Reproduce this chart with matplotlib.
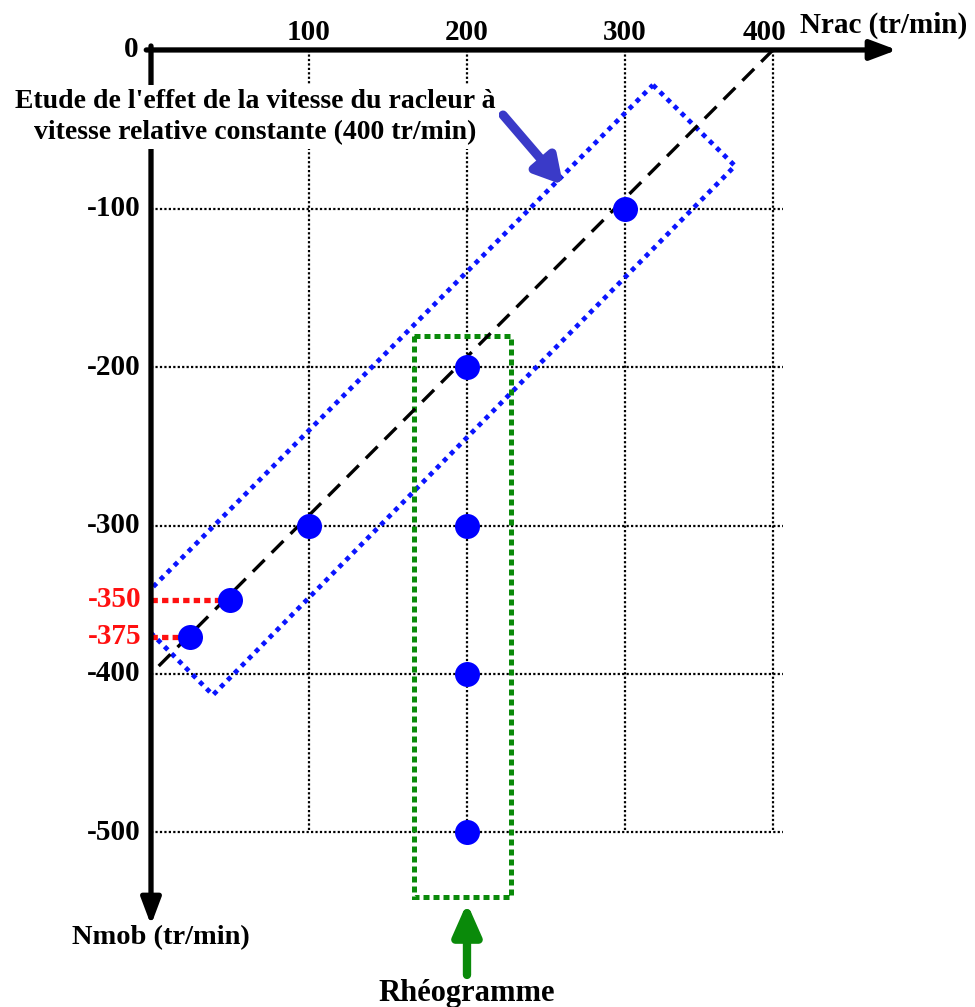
import numpy as np
import matplotlib
matplotlib.use("Agg")
import matplotlib.pyplot as plt
from matplotlib.patches import Polygon, Rectangle

# ---------------- data ----------------
nrac_pts = [300, 200, 100, 50, 25, 200, 200, 200]
nmob_pts = [-100, -200, -300, -350, -375, -300, -400, -500]
x_ticks = [100, 200, 300, 400]
y_ticks = [-100, -200, -300, -400, -500]
red_levels = [-350, -375]
red_nrac = [50, 25]
rel_speed = 400
blue_box_x = [318.9, 374.3, 39.2, -13.9]
blue_box_y = [-22.1, -73.1, -413.4, -357.6]
green_box_x = [166.5, 227.8]
green_box_y = [-180.3, -540.7]

# ---------------- scales (hand-drawn spacing) ----------------
KX = 148 / 158.0
KY = 148 / 158.6


def fx(x):
    x = np.asarray(x, dtype=float)
    return np.where(x <= 300, x, 300 + (x - 300) * KX)


def ix(u):
    u = np.asarray(u, dtype=float)
    return np.where(u <= 300, u, 300 + (u - 300) / KX)


def fy(y):
    y = np.asarray(y, dtype=float)
    return np.where(y >= -300, y,
                    np.where(y >= -400, -300 + (y + 300) * KY,
                             -300 - 100 * KY + (y + 400)))


def iy(u):
    u = np.asarray(u, dtype=float)
    b = -300 - 100 * KY
    return np.where(u >= -300, u,
                    np.where(u >= b, -300 + (u + 300) / KY,
                             -400 + (u - b)))


plt.rcParams['font.family'] = ['Liberation Serif', 'DejaVu Serif']
plt.rcParams['font.weight'] = 'bold'

fig = plt.figure(figsize=(9.75, 10.07), dpi=100)
ax = fig.add_axes([0, 0, 1, 1])
ax.set_xscale('function', functions=(fx, ix))
ax.set_yscale('function', functions=(fy, iy))
ax.set_xlim(-95.57, 536.5)
ax.set_ylim(-610.1, 31.5)
ax.axis('off')

# grid
ymin_g = min(y_ticks)
for xv in x_ticks:
    ax.plot([xv, xv], [0, ymin_g], color='black', lw=1.6,
            linestyle=(0, (1, 1)), zorder=1)
for yv in y_ticks:
    ax.plot([0, 406.8], [yv, yv], color='black', lw=1.6,
            linestyle=(0, (1, 1)), zorder=1)

# axes arrows
ax.annotate('', xy=(483.8, 0), xytext=(-3, 0),
            arrowprops=dict(arrowstyle='-|>,head_length=0.8,head_width=0.3',
                            mutation_scale=20, lw=3.8, color='black',
                            shrinkA=0, shrinkB=0),
            zorder=5)
ax.annotate('', xy=(0, -558.4), xytext=(0, 2.5),
            arrowprops=dict(arrowstyle='-|>,head_length=0.8,head_width=0.3',
                            mutation_scale=20, lw=3.8, color='black',
                            shrinkA=0, shrinkB=0),
            zorder=5)

# dashed constant relative speed line
ax.plot([rel_speed, 0], [0, -rel_speed], color='black', lw=2.4,
        linestyle=(0, (5, 3)), zorder=3)

# blue dotted box
clip = Rectangle((0, -700), 1000, 800, transform=ax.transData)
bx = Polygon(list(zip(blue_box_x, blue_box_y)), closed=True, fill=False,
             edgecolor='#0a14ff', lw=3.4, linestyle=(0, (1, 1.1)), zorder=2)
ax.add_patch(bx)
bx.set_clip_path(clip)

# green dotted box
gb = Polygon([(green_box_x[0], green_box_y[0]), (green_box_x[1], green_box_y[0]),
              (green_box_x[1], green_box_y[1]), (green_box_x[0], green_box_y[1])],
             closed=True, fill=False, edgecolor='#0a8a0a', lw=3.6,
             linestyle=(0, (1.2, 0.8)), zorder=2)
ax.add_patch(gb)

# red dotted lines
for xv, yv in zip(red_nrac, red_levels):
    ax.plot([0, xv], [yv, yv], color='#ff1010', lw=3.8,
            linestyle=(0, (1.2, 0.8)), zorder=4, solid_capstyle='butt')

# points
ax.plot(nrac_pts, nmob_pts, 'o', color='#0000ff', markersize=18, zorder=6,
        markeredgewidth=0)

# tick labels
fs = 21
ax.annotate('0', xy=(0, 0), xytext=(-20, 0), textcoords='offset pixels',
            ha='center', va='center', fontsize=fs, fontweight='bold')
for xv in x_ticks:
    off = -8 if xv == 400 else 0
    ax.annotate(str(xv), xy=(xv, 0), xytext=(off, 17), textcoords='offset pixels',
                ha='center', va='center', fontsize=fs, fontweight='bold')
for yv in y_ticks:
    ax.annotate(str(yv), xy=(0, yv), xytext=(-10, 0), textcoords='offset pixels',
                ha='right', va='center', fontsize=fs, fontweight='bold')
for yv in red_levels:
    ax.annotate(str(yv), xy=(0, yv), xytext=(-9, 0), textcoords='offset pixels',
                ha='right', va='center', fontsize=fs, fontweight='bold',
                color='#ff1010')

# axis titles
fig.text(884 / 975, 1 - 25 / 1007, 'Nrac (tr/min)', ha='center', va='center',
         fontsize=21, fontweight='bold')
fig.text(161 / 975, 1 - 938 / 1007, 'Nmob (tr/min)', ha='center', va='center',
         fontsize=20.5, fontweight='bold')
fig.text(467 / 975, 1 - 994 / 1007, 'Rhéogramme', ha='center', va='center',
         fontsize=22, fontweight='bold')
fig.text(255 / 975, 1 - 117 / 1007,
         "Etude de l'effet de la vitesse du racleur à\nvitesse relative constante (400 tr/min)",
         ha='center', va='center', fontsize=20, fontweight='bold', linespacing=1.3,
         bbox=dict(boxstyle='square,pad=0.15', facecolor='white', edgecolor='none'),
         zorder=10)

# annotation arrows
ax.annotate('', xy=(260.8, -85.1), xytext=(222.8, -41.0),
            arrowprops=dict(arrowstyle='-|>,head_length=0.8,head_width=0.45',
                            mutation_scale=20, lw=6.5, color='#3a3ac8',
                            shrinkA=0, shrinkB=0), zorder=7)
ax.annotate('', xy=(200, -544.5), xytext=(200, -589.9),
            arrowprops=dict(arrowstyle='-|>,head_length=0.95,head_width=0.42',
                            mutation_scale=20, lw=6, color='#0a8a0a',
                            shrinkA=0, shrinkB=0), zorder=7)

fig.savefig('out.png', dpi=100)
